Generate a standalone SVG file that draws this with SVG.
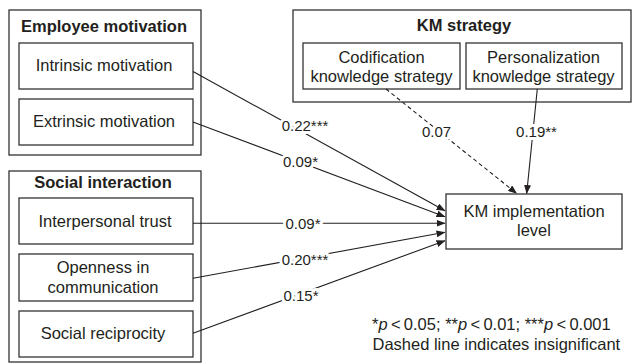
<svg xmlns="http://www.w3.org/2000/svg" width="632" height="363" viewBox="0 0 632 363">
<style>
text{font-family:"Liberation Sans",Arial,sans-serif;fill:#231f20}
.n{font-size:16.5px;text-anchor:middle}
.t{font-size:16.5px;font-weight:bold;text-anchor:middle}
.box{fill:#fff;stroke:#333;stroke-width:1.3}
.grp{fill:none;stroke:#333;stroke-width:1.3}
.c{fill:none;stroke:#231f20;stroke-width:1.1}
.d{stroke-dasharray:4 3}
.l{font-size:15px;text-anchor:middle;stroke:#fff;stroke-width:6;stroke-linejoin:round;paint-order:stroke}
.f{font-size:16.5px}
</style>
<defs>
<marker id="ah" markerWidth="9" markerHeight="7" refX="8.5" refY="3.5" orient="auto" markerUnits="userSpaceOnUse">
<path d="M0,0 L9,3.5 L0,7 Z" fill="#231f20"/>
</marker>
</defs>
<rect width="632" height="363" fill="#fff"/>

<g id="employee-motivation">
<rect class="grp" x="9" y="10" width="192" height="145"/>
<text class="t" x="104" y="32">Employee motivation</text>
</g>
<g id="intrinsic-motivation">
<rect class="box" x="19" y="43" width="174" height="46"/>
<text class="n" x="104" y="71">Intrinsic motivation</text>
</g>
<g id="extrinsic-motivation">
<rect class="box" x="19" y="99" width="174" height="46"/>
<text class="n" x="104" y="127">Extrinsic motivation</text>
</g>

<g id="social-interaction">
<rect class="grp" x="9" y="171" width="192" height="191"/>
<text class="t" x="103" y="188">Social interaction</text>
</g>
<g id="interpersonal-trust">
<rect class="box" x="19" y="198" width="174" height="46"/>
<text class="n" x="105" y="227">Interpersonal trust</text>
</g>
<g id="openness">
<rect class="box" x="19" y="254" width="174" height="47"/>
<text class="n" x="103" y="273">Openness in</text>
<text class="n" x="103" y="293">communication</text>
</g>
<g id="social-reciprocity">
<rect class="box" x="19" y="311" width="174" height="46"/>
<text class="n" x="103" y="339">Social reciprocity</text>
</g>

<g id="km-strategy">
<rect class="grp" x="293" y="10" width="338" height="92"/>
<text class="t" x="464" y="31">KM strategy</text>
</g>
<g id="codification">
<rect class="box" x="303" y="43" width="157" height="46"/>
<text class="n" x="381.5" y="63">Codification</text>
<text class="n" x="381.5" y="82">knowledge strategy</text>
</g>
<g id="personalization">
<rect class="box" x="466" y="43" width="156" height="46"/>
<text class="n" x="543.5" y="63">Personalization</text>
<text class="n" x="543.5" y="82">knowledge strategy</text>
</g>

<g id="km-implementation">
<rect class="box" x="446" y="194" width="176" height="55"/>
<text class="n" x="534" y="217">KM implementation</text>
<text class="n" x="534" y="236">level</text>
</g>

<g id="connectors">
<line class="c" x1="193" y1="71.5" x2="445" y2="210.8" marker-end="url(#ah)"/>
<line class="c" x1="193" y1="122" x2="445" y2="216.8" marker-end="url(#ah)"/>
<line class="c" x1="193" y1="223.3" x2="445" y2="223.3" marker-end="url(#ah)"/>
<line class="c" x1="193" y1="278.3" x2="445" y2="232.3" marker-end="url(#ah)"/>
<line class="c" x1="193" y1="333.3" x2="445" y2="240.7" marker-end="url(#ah)"/>
<line class="c d" x1="386" y1="89" x2="516.7" y2="193.5" marker-end="url(#ah)"/>
<line class="c" x1="537.3" y1="89" x2="526.7" y2="193.5" marker-end="url(#ah)"/>
<text class="l" x="305" y="131">0.22***</text>
<text class="l" x="300.5" y="166.5">0.09*</text>
<text class="l" x="303" y="228.5">0.09*</text>
<text class="l" x="305" y="265">0.20***</text>
<text class="l" x="301" y="300.5">0.15*</text>
<text class="l" x="436.5" y="136.7">0.07</text>
<text class="l" x="536.5" y="136.7">0.19**</text>
</g>

<g id="legend">
<text class="f" x="372" y="330">*<tspan font-style="italic">p</tspan>&#8201;&lt;&#8201;0.05; **<tspan font-style="italic">p</tspan>&#8201;&lt;&#8201;0.01; ***<tspan font-style="italic">p</tspan>&#8201;&lt;&#8201;0.001</text>
<text class="f" x="372.5" y="350">Dashed line indicates insignificant</text>
</g>
</svg>
